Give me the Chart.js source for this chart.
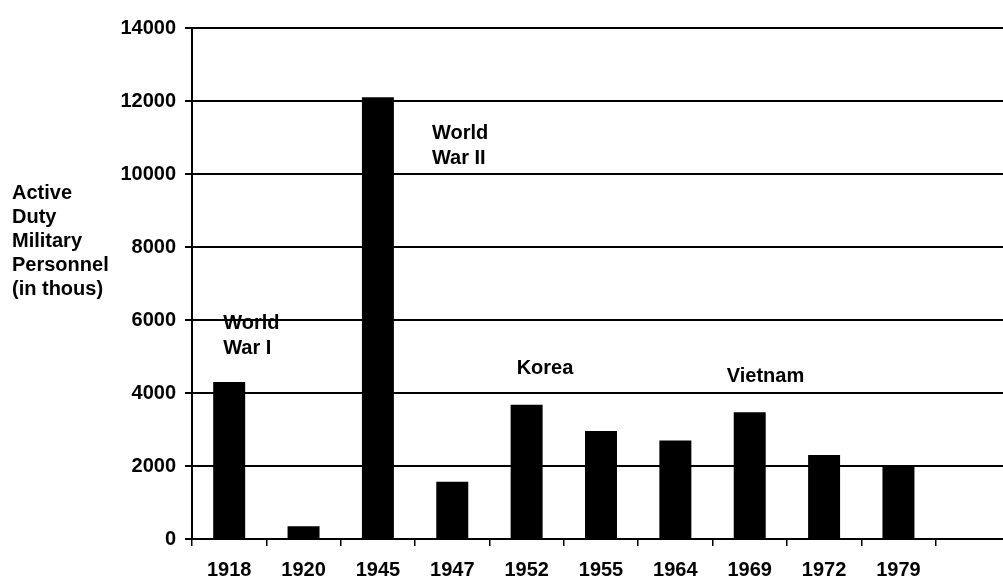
<!DOCTYPE html>
<html>
<head>
<meta charset="utf-8">
<script src="https://cdn.jsdelivr.net/npm/chart.js@4"></script>
<style>
  html, body { margin: 0; padding: 0; background: #fff; overflow: hidden; }
  #wrap { width: 1003px; height: 582px; overflow: hidden; }
  #inner { width: 1010px; height: 582px; }
</style>
</head>
<body>
<div id="wrap"><div id="inner"><canvas id="bar-chart"></canvas></div></div>
<script>
// data
const years = ['1918', '1920', '1945', '1947', '1952', '1955', '1964', '1969', '1972', '1979', ''];
const personnel = [4300, 350, 12100, 1570, 3680, 2960, 2700, 3470, 2300, 2020, null];
const yTicks = [0, 2000, 4000, 6000, 8000, 10000, 12000, 14000];
const yTitle = ['Active', 'Duty', 'Military', 'Personnel', '(in thous)'];

// war labels: text lines, year they sit near, value of first line
const warText = [['World', 'War I'], ['World', 'War II'], ['Korea'], ['Vietnam']];
const warYear = ['1918', '1945', '1952', '1969'];
const warValue = [5900, 11120, 4680, 4460];
const warShift = [-6, 54, -10, -23];

const FONT = '"Liberation Sans", Arial, sans-serif';

const textPlugin = {
  id: 'textPlugin',
  afterDraw: function (chart) {
    const ctx = chart.ctx;
    const xs = chart.scales.x;
    const ys = chart.scales.y;
    ctx.save();
    ctx.fillStyle = '#000';
    ctx.font = 'bold 20px ' + FONT;
    ctx.textAlign = 'left';
    ctx.textBaseline = 'middle';
    // y title, horizontal lines on the left
    yTitle.forEach(function (line, i) {
      ctx.fillText(line, 12, 193 + i * 24.2);
    });
    // war labels
    warText.forEach(function (lines, i) {
      const x = xs.getPixelForValue(years.indexOf(warYear[i])) + warShift[i];
      const y = ys.getPixelForValue(warValue[i]);
      lines.forEach(function (line, j) {
        ctx.fillText(line, x, y + j * 25);
      });
    });
    ctx.restore();
  }
};

const barContext = document.getElementById('bar-chart');
const barChart = new Chart(barContext, {
  type: 'bar',
  data: {
    labels: years,
    datasets: [
      {
        label: 'Active Duty Military Personnel',
        backgroundColor: '#000',
        data: personnel,
        barPercentage: 0.43,
        categoryPercentage: 1,
      },
    ],
  },
  options: {
    responsive: true,
    maintainAspectRatio: false,
    animation: false,
    layout: { padding: { top: 28, left: 0, right: 0, bottom: 0 } },
    plugins: {
      legend: { display: false },
      tooltip: { enabled: false },
    },
    scales: {
      x: {
        offset: true,
        afterFit: function (scale) { scale.height = 43; },
        grid: {
          offset: true,
          drawOnChartArea: false,
          color: '#000',
          lineWidth: 1.5,
          tickLength: 7,
        },
        border: { color: '#000', width: 2 },
        ticks: {
          color: '#000',
          font: { family: FONT, size: 20, weight: 'bold' },
          padding: 12,
          maxRotation: 0,
          autoSkip: false,
        },
      },
      y: {
        min: 0,
        max: 14000,
        afterFit: function (scale) { scale.width = 192; },
        afterBuildTicks: function (scale) {
          scale.ticks = yTicks.map(function (v) { return { value: v }; });
        },
        grid: {
          color: '#000',
          lineWidth: 2,
          tickLength: 7,
        },
        border: { color: '#000', width: 2 },
        ticks: {
          color: '#000',
          font: { family: FONT, size: 20, weight: 'bold' },
          padding: 9,
          callback: function (v) { return String(v); },
        },
      },
    },
  },
  plugins: [textPlugin],
});
</script>
</body>
</html>
